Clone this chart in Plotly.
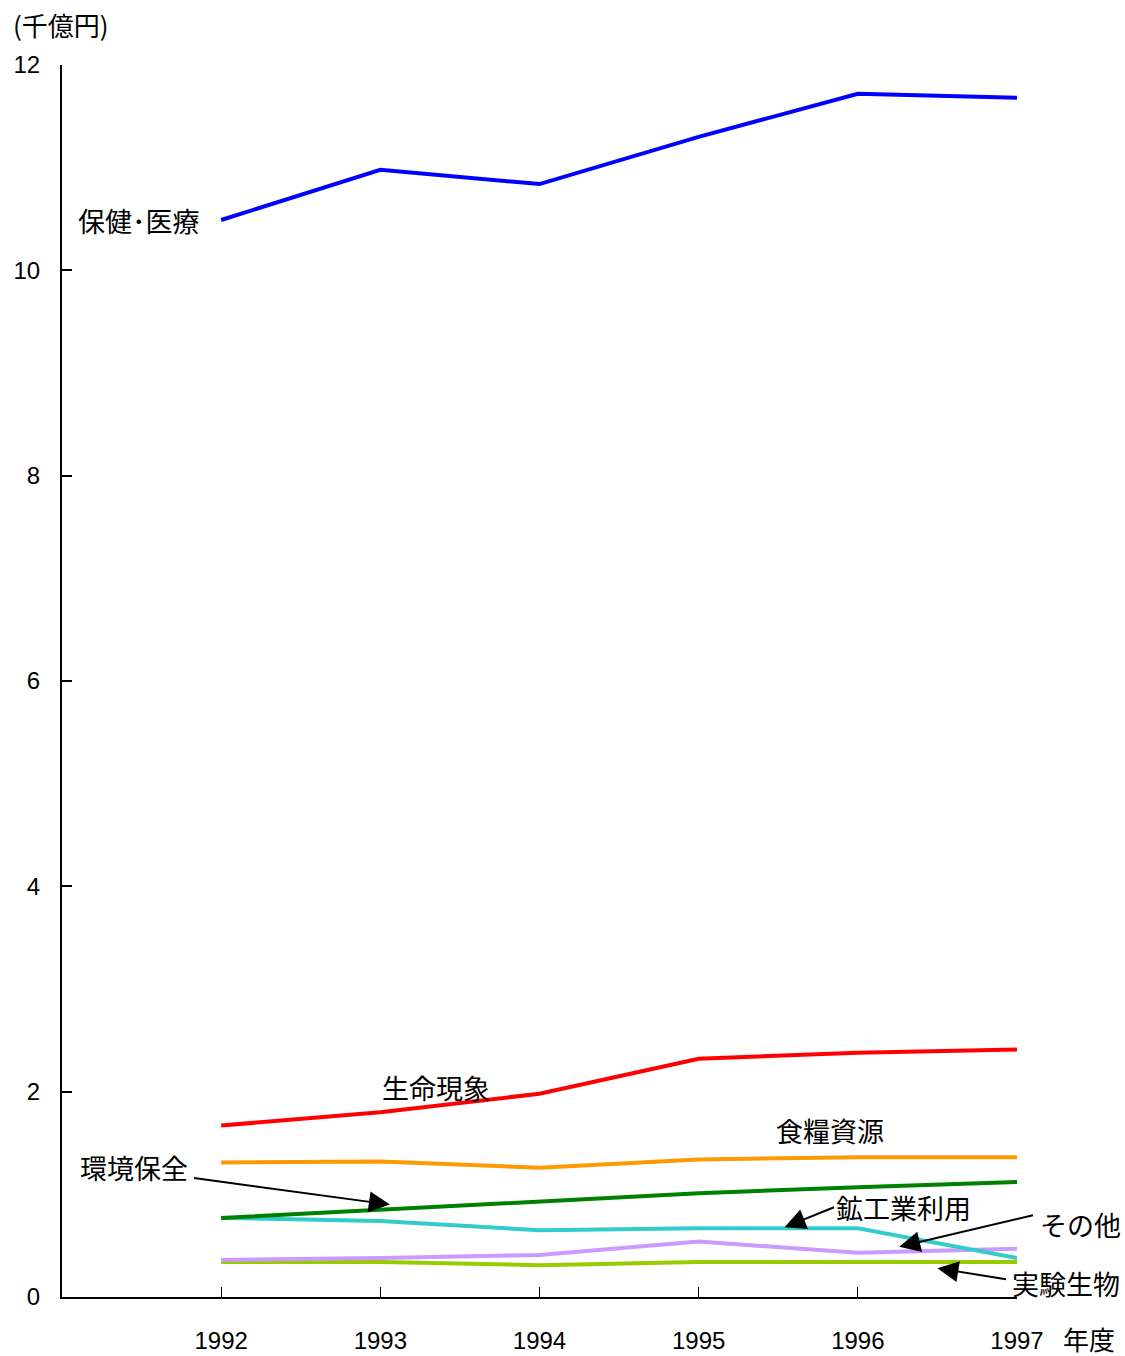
import plotly.graph_objects as go

years = [1992, 1993, 1994, 1995, 1996, 1997]

hoken_iryo = [10.49, 10.98, 10.84, 11.30, 11.72, 11.68]
seimei_gensho = [1.67, 1.80, 1.98, 2.32, 2.38, 2.41]
shokuryo_shigen = [1.31, 1.32, 1.26, 1.34, 1.36, 1.36]
kankyo_hozen = [0.77, 0.85, 0.93, 1.01, 1.07, 1.12]
kokogyo_riyo = [0.77, 0.74, 0.65, 0.67, 0.67, 0.38]
sonota = [0.36, 0.38, 0.41, 0.54, 0.43, 0.47]
jikken_seibutsu = [0.34, 0.34, 0.31, 0.34, 0.34, 0.34]

y_ticks = [0, 2, 4, 6, 8, 10, 12]

jp = "Noto Sans CJK JP"
num = "Liberation Sans"

fig = go.Figure()

series = [
    (jikken_seibutsu, "#99CC00", "実験生物"),
    (sonota, "#CC99FF", "その他"),
    (kokogyo_riyo, "#33CCCC", "鉱工業利用"),
    (kankyo_hozen, "#008000", "環境保全"),
    (shokuryo_shigen, "#FF9900", "食糧資源"),
    (seimei_gensho, "#FF0000", "生命現象"),
    (hoken_iryo, "#0000FF", "保健・医療"),
]
for vals, col, name in series:
    fig.add_trace(go.Scatter(x=years, y=vals, mode="lines", name=name,
                             line=dict(color=col, width=4), cliponaxis=False))

# text labels, positions in paper coords (relative to plot area)
labels = [
    ("保健･医療", 0.147, 0.874, "right"),
    ("生命現象", 0.392, 0.170, "center"),
    ("食糧資源", 0.804, 0.135, "center"),
    ("環境保全", 0.075, 0.105, "center"),
    ("鉱工業利用", 0.881, 0.073, "center"),
    ("その他", 1.067, 0.059, "center"),
    ("実験生物", 1.051, 0.011, "center"),
]
for txt, x, y, anc in labels:
    fig.add_annotation(x=x, y=y, xref="paper", yref="paper", text=txt,
                       showarrow=False, xanchor=anc, yanchor="middle",
                       font=dict(family=jp, size=27, color="black"))

# arrows: (head x, head y, tail x, tail y) in data units
arrows = [
    (1993.06, 0.90, 1991.82, 1.16),
    (1995.54, 0.68, 1995.86, 0.88),
    (1996.26, 0.49, 1997.11, 0.80),
    (1996.50, 0.28, 1996.94, 0.17),
]
for hx, hy, tx, ty in arrows:
    fig.add_annotation(x=hx, y=hy, ax=tx, ay=ty, xref="x", yref="y",
                       axref="x", ayref="y", text="", showarrow=True,
                       arrowhead=2, arrowsize=2.1, arrowwidth=2, arrowcolor="black")

fig.add_annotation(xref="paper", yref="paper", x=-0.0535, y=1.0325, xanchor="left",
                   yanchor="middle", text="(千億円)", showarrow=False,
                   font=dict(family=jp, size=26, color="black"))
fig.add_annotation(xref="paper", yref="paper", x=1.046, y=-0.0333, xanchor="left",
                   yanchor="middle", text="年度", showarrow=False,
                   font=dict(family=jp, size=26, color="black"))

fig.update_layout(
    width=1125, height=1356,
    margin=dict(l=62, r=108, t=65, b=59),
    paper_bgcolor="white", plot_bgcolor="white",
    showlegend=False,
    xaxis=dict(range=[1991, 1997], tickvals=years, ticks="inside", ticklen=10,
               tickcolor="black", tickwidth=1, showline=True, linecolor="black",
               linewidth=2, showgrid=False, zeroline=False, ticklabelstandoff=21,
               automargin=False,
               tickfont=dict(family=num, size=24, color="black")),
    yaxis=dict(range=[0, 12], tickvals=y_ticks, ticks="inside", ticklen=10,
               tickcolor="black", tickwidth=2, showline=True, linecolor="black",
               linewidth=2, showgrid=False, zeroline=False, ticklabelstandoff=15,
               automargin=False,
               tickfont=dict(family=num, size=24, color="black")),
)

fig.write_html("out.html", config={"displayModeBar": False},
               post_script="document.body.style.margin='0px';")
